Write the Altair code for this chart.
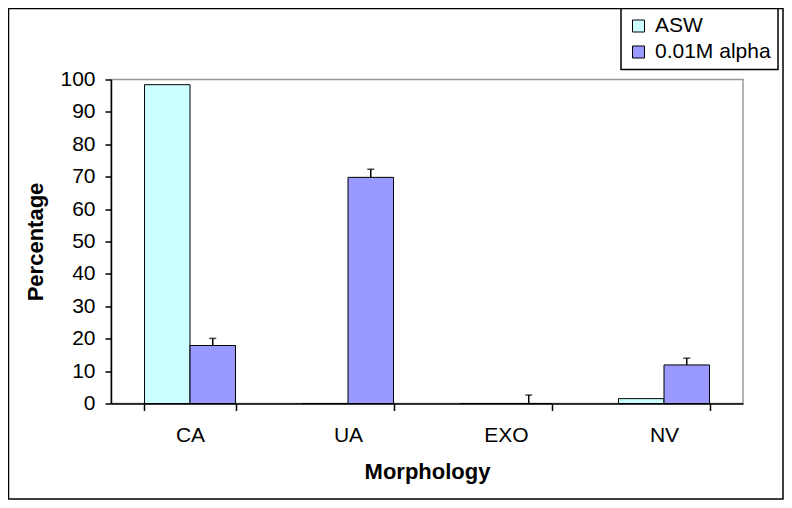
import altair as alt
import pandas as pd

categories = ["CA", "UA", "EXO", "NV"]
series = ["ASW", "0.01M alpha"]
asw_values = [98.4, 0.0, 0.0, 1.5]
alpha_values = [17.9, 69.8, 0.0, 11.9]
alpha_upper = [20.1, 72.3, 2.6, 14.0]
colors = ["#CCFFFF", "#9999FF"]
y_ticks = list(range(0, 101, 10))

rows = []
for c, a, b in zip(categories, asw_values, alpha_values):
    rows.append({"cat": c, "series": "ASW", "val": a})
    rows.append({"cat": c, "series": "0.01M alpha", "val": b})
bars_df = pd.DataFrame(rows)

err_df = pd.DataFrame({
    "cat": categories,
    "series": ["0.01M alpha"] * 4,
    "val": alpha_values,
    "upper": alpha_upper,
})

FONT = "Liberation Sans"

x_enc = alt.X(
    "cat:N", sort=categories,
    scale=alt.Scale(domain=categories, paddingInner=0.424, paddingOuter=0.212),
    axis=alt.Axis(title="Morphology", labelAngle=0, tickBand="extent"),
)
xoff_enc = alt.XOffset("series:N", sort=series, scale=alt.Scale(domain=series, paddingInner=0, paddingOuter=0))
y_scale = alt.Scale(domain=[0, 100], nice=False)
y_axis = alt.Axis(title="Percentage", values=y_ticks, labelOverlap=False, tickCount=11)

frame = alt.Chart(alt.Data(values=[{"f": 1}])).mark_rect(
    fill=None, stroke="black", strokeWidth=1.5, clip=False
).encode(
    x=alt.value(-102.5), x2=alt.value(672),
    y=alt.value(-71), y2=alt.value(419.5),
)

bars = alt.Chart(bars_df).mark_bar(stroke="black", strokeWidth=1).encode(
    x=x_enc,
    xOffset=xoff_enc,
    y=alt.Y("val:Q", scale=y_scale, axis=y_axis),
    color=alt.Color("series:N", sort=series,
                    scale=alt.Scale(domain=series, range=colors),
                    legend=alt.Legend(title=None)),
)

err_rule = alt.Chart(err_df).mark_rule(color="black", strokeWidth=1.5).encode(
    x=x_enc, xOffset=xoff_enc,
    y=alt.Y("val:Q", scale=y_scale, axis=y_axis), y2="upper:Q",
)
err_cap = alt.Chart(err_df).mark_tick(color="black", size=7, thickness=1.5).encode(
    x=x_enc, xOffset=xoff_enc,
    y=alt.Y("upper:Q", scale=y_scale, axis=y_axis),
)

chart = alt.layer(frame, bars, err_rule, err_cap).properties(
    width=632, height=324,
    autosize="none",
    padding={"left": 103, "top": 71.5, "right": 41, "bottom": 96.5},
).configure_view(
    stroke="#999999", strokeWidth=1.5,
).configure_axis(
    grid=False,
    domainColor="black", domainWidth=1.5,
    tickColor="black", tickWidth=1.5,
    labelFont=FONT, labelFontSize=21, labelColor="black",
    titleFont=FONT, titleFontSize=22, titleFontWeight="bold", titleColor="black",
).configure_axisX(
    tickSize=7, labelPadding=14, titlePadding=16,
).configure_axisY(
    tickSize=6, labelPadding=10, titlePadding=12,
).configure_legend(
    orient="none", legendX=510, legendY=-71,
    strokeColor="black", strokeWidth=1.5, fillColor="white", padding=7,
    symbolType="square", symbolSize=144, symbolStrokeColor="black",
    symbolStrokeWidth=1, symbolOpacity=1,
    labelFont=FONT, labelFontSize=21, labelColor="black", labelOffset=6,
    rowPadding=4,
)

chart.save("out.html", embed_options={"renderer": "svg", "actions": False})
